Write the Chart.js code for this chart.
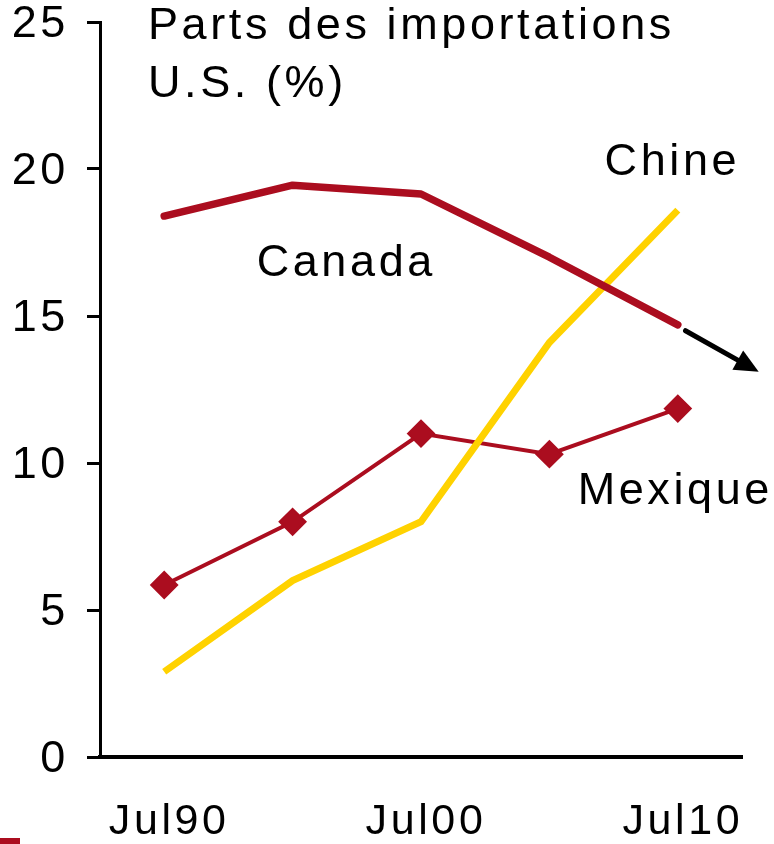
<!DOCTYPE html>
<html>
<head>
<meta charset="utf-8">
<script src="https://cdn.jsdelivr.net/npm/chart.js@4/dist/chart.umd.min.js"></script>
<style>
  html, body { margin: 0; padding: 0; background: #ffffff; }
  #wrap { position: relative; width: 774px; height: 844px; }
</style>
</head>
<body>
<div id="wrap"><canvas id="c" width="774" height="844"></canvas></div>
<script>
// ---- data ----
const categories = ["Jul90", "Jul95", "Jul00", "Jul05", "Jul10"];
const xTickLabels = ["Jul90", "", "Jul00", "", "Jul10"];
const canada  = [18.4, 19.45, 19.15, 17.0, 14.7];
const chine   = [2.9, 6.0, 8.0, 14.1, 18.6];
const mexique = [5.85, 8.0, 11.0, 10.3, 11.85];
const yTicks = [0, 5, 10, 15, 20, 25];
const titleLines = ["Parts des importations", "U.S. (%)"];
const seriesNames = ["Canada", "Chine", "Mexique"];

const RED = "#AB0D1F";
const YELLOW = "#FFD200";
const FONT = "'Liberation Sans', Arial, sans-serif";
const LS = "3.6px";

const decorPlugin = {
  id: "decor",
  beforeUpdate(chart) { chart.ctx.letterSpacing = LS; },
  beforeDraw(chart) { chart.ctx.letterSpacing = LS; },
  afterDatasetsDraw(chart) {
    const ctx = chart.ctx;
    const xs = chart.scales.x, ys = chart.scales.y;
    const ca = chart.chartArea;
    ctx.save();
    ctx.letterSpacing = LS;
    ctx.fillStyle = "#000";
    ctx.font = "45px " + FONT;
    ctx.textBaseline = "alphabetic";
    ctx.textAlign = "left";
    // title
    ctx.fillText(titleLines[0], ca.left + 48, 39);
    ctx.fillText(titleLines[1], ca.left + 48, 97);
    // series labels
    ctx.fillText(seriesNames[0], xs.getPixelForValue(0.72), ys.getPixelForValue(16.35));
    ctx.fillText(seriesNames[1], xs.getPixelForValue(3.43), ys.getPixelForValue(19.8));
    ctx.fillText(seriesNames[2], xs.getPixelForValue(3.22), ys.getPixelForValue(8.6));
    // arrow after Canada
    const x1 = xs.getPixelForValue(4.06), y1 = ys.getPixelForValue(14.5);
    const x2 = xs.getPixelForValue(4.63), y2 = ys.getPixelForValue(13.1);
    const ang = Math.atan2(y2 - y1, x2 - x1);
    const head = 24, hw = 11;
    const bx = x2 - head * Math.cos(ang), by = y2 - head * Math.sin(ang);
    ctx.strokeStyle = "#000";
    ctx.lineWidth = 5;
    ctx.lineCap = "round";
    ctx.beginPath();
    ctx.moveTo(x1, y1);
    ctx.lineTo(bx, by);
    ctx.stroke();
    ctx.beginPath();
    ctx.moveTo(x2, y2);
    ctx.lineTo(bx + hw * Math.sin(ang), by - hw * Math.cos(ang));
    ctx.lineTo(bx - hw * Math.sin(ang), by + hw * Math.cos(ang));
    ctx.closePath();
    ctx.fill();
    // small red mark bottom-left
    ctx.fillStyle = RED;
    ctx.fillRect(0, 838, 20, 6);
    ctx.restore();
  }
};

new Chart(document.getElementById("c"), {
  type: "line",
  data: {
    labels: categories,
    datasets: [
      { label: seriesNames[0], data: canada, borderColor: RED, borderWidth: 7.5,
        pointRadius: 0, borderCapStyle: "round", borderJoinStyle: "round", tension: 0 },
      { label: seriesNames[1], data: chine, borderColor: YELLOW, borderWidth: 7,
        pointRadius: 0, borderCapStyle: "butt", borderJoinStyle: "miter", tension: 0 },
      { label: seriesNames[2], data: mexique, borderColor: RED, borderWidth: 4,
        pointStyle: "rectRot", pointRadius: 13, pointBackgroundColor: RED,
        pointBorderColor: RED, pointBorderWidth: 2, pointHoverRadius: 13, tension: 0 }
    ]
  },
  options: {
    responsive: false,
    animation: false,
    events: [],
    layout: { padding: { top: 22, right: 32, left: 0, bottom: 0 } },
    plugins: { legend: { display: false }, tooltip: { enabled: false }, title: { display: false } },
    scales: {
      x: {
        offset: true,
        grid: { display: false, drawTicks: false },
        border: { display: true, color: "#000", width: 4 },
        ticks: {
          autoSkip: false, maxRotation: 0, padding: 39, labelOffset: 5, color: "#000",
          font: { family: FONT, size: 43 },
          callback: (v, i) => xTickLabels[i]
        },
        afterFit(s) { s.height = 87; s.paddingLeft = 0; s.paddingRight = 0; }
      },
      y: {
        min: 0, max: 25,
        afterBuildTicks(s) { s.ticks = yTicks.map(v => ({ value: v })); },
        grid: { display: true, drawOnChartArea: false, drawTicks: true, tickLength: 13,
                color: "#000", lineWidth: 3 },
        border: { display: true, color: "#000", width: 3 },
        ticks: { padding: 18, labelOffset: 3, color: "#000", font: { family: FONT, size: 45 } },
        afterFit(s) { s.width = 100; s.paddingTop = 0; s.paddingBottom = 0; }
      }
    }
  },
  plugins: [decorPlugin]
});
</script>
</body>
</html>
